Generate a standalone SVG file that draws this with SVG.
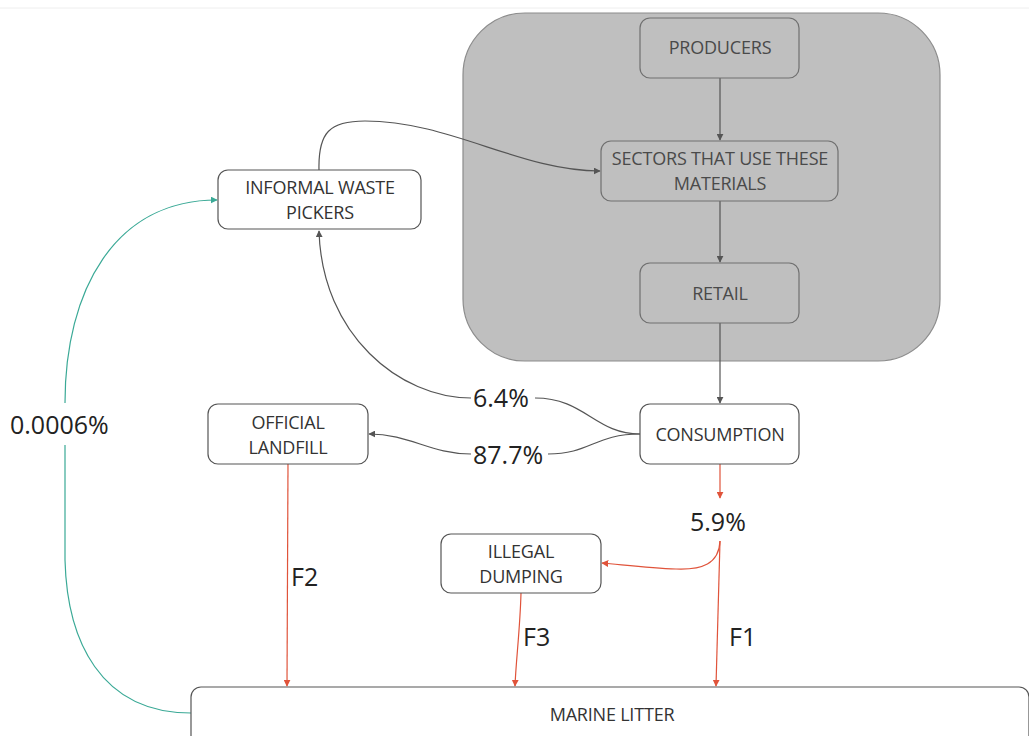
<svg xmlns="http://www.w3.org/2000/svg" width="1029" height="736" viewBox="0 0 1029 736">
<defs>
<style>
.node{fill:#ffffff;stroke:#555;stroke-width:1.2}
.inner{fill:#bfbfbf;stroke:#707070;stroke-width:1.2}
.t{font-family:"Open Sans","Liberation Sans",sans-serif;font-size:18px;fill:#333;text-anchor:middle;letter-spacing:-0.2px}
.ti{fill:#4a4a4a}
.lbl{font-family:"Open Sans","Liberation Sans",sans-serif;font-size:25px;fill:#222}
.g{fill:none;stroke:#555;stroke-width:1.2}
.r{fill:none;stroke:#e0533a;stroke-width:1.2}
.c{fill:none;stroke:#3aa996;stroke-width:1.2}
</style>
<marker id="ag" viewBox="0 0 10 10" refX="9" refY="5" markerWidth="7" markerHeight="7" markerUnits="userSpaceOnUse" orient="auto"><path d="M0,0 L10,5 L0,10 z" fill="#555"/></marker>
<marker id="ar" viewBox="0 0 10 10" refX="9" refY="5" markerWidth="7" markerHeight="7" markerUnits="userSpaceOnUse" orient="auto"><path d="M0,0 L10,5 L0,10 z" fill="#e0533a"/></marker>
<marker id="ac" viewBox="0 0 10 10" refX="9" refY="5" markerWidth="7" markerHeight="7" markerUnits="userSpaceOnUse" orient="auto"><path d="M0,0 L10,5 L0,10 z" fill="#3aa996"/></marker>
</defs>
<rect width="1029" height="736" fill="#ffffff"/>
<line x1="0" y1="8" x2="1029" y2="8" stroke="#eeeeee" stroke-width="1"/>

<g id="container">
<rect x="463" y="13" width="477" height="348" rx="62" fill="#bfbfbf" stroke="#8c8c8c" stroke-width="1.2"/>
</g>

<g id="connectors">
<line class="g" x1="720" y1="78" x2="720" y2="140" marker-end="url(#ag)"/>
<line class="g" x1="720" y1="201" x2="720" y2="262" marker-end="url(#ag)"/>
<line class="g" x1="720" y1="323" x2="720" y2="403" marker-end="url(#ag)"/>
<path class="g" d="M319,170 C318,132 330,121 365,121 C450,121 520,171 600,171" marker-end="url(#ag)"/>
<path class="g" d="M640,434 C595,434 585,398 535,398"/>
<path class="g" d="M471,398 C400,398 322,335 319,231" marker-end="url(#ag)"/>
<path class="g" d="M640,434 C595,434 590,454 548,454"/>
<path class="g" d="M471,454 C430,454 410,434 369,434" marker-end="url(#ag)"/>
<line class="r" x1="720" y1="464" x2="720" y2="498" marker-end="url(#ar)"/>
<path class="r" d="M720,541 C719,564 702,570 676,569 C650,568 625,565 602,563" marker-end="url(#ar)"/>
<path class="r" d="M720,541 L716,686" marker-end="url(#ar)"/>
<path class="r" d="M521,593 C520,630 516,660 515,686" marker-end="url(#ar)"/>
<line class="r" x1="288" y1="464" x2="287" y2="686" marker-end="url(#ar)"/>
<path class="c" d="M191,713 C100,713 67,640 65,560 L65,445"/>
<path class="c" d="M65,403 C65,290 115,200 217,200" marker-end="url(#ac)"/>
<text class="lbl" x="473" y="407">6.4%</text>
<text class="lbl" x="473" y="464">87.7%</text>
<text class="lbl" x="690" y="531">5.9%</text>
<text class="lbl" x="291" y="586">F2</text>
<text class="lbl" x="523" y="646">F3</text>
<text class="lbl" x="729" y="646">F1</text>
<text class="lbl" x="10" y="434">0.0006%</text>
</g>

<g id="producers">
<rect class="inner" x="640" y="18" width="159" height="60" rx="10"/>
<text class="t ti" x="720" y="54">PRODUCERS</text>
</g>
<g id="sectors">
<rect class="inner" x="601" y="141" width="237" height="60" rx="10"/>
<text class="t ti" x="720" y="165">SECTORS THAT USE THESE</text>
<text class="t ti" x="720" y="190">MATERIALS</text>
</g>
<g id="retail">
<rect class="inner" x="640" y="263" width="159" height="60" rx="10"/>
<text class="t ti" x="720" y="300">RETAIL</text>
</g>
<g id="informal">
<rect class="node" x="218" y="170" width="203" height="59" rx="10"/>
<text class="t" x="320" y="194">INFORMAL WASTE</text>
<text class="t" x="320" y="219">PICKERS</text>
</g>
<g id="consumption">
<rect class="node" x="640" y="404" width="159" height="60" rx="10"/>
<text class="t" x="720" y="441">CONSUMPTION</text>
</g>
<g id="landfill">
<rect class="node" x="208" y="404" width="160" height="60" rx="10"/>
<text class="t" x="288" y="429">OFFICIAL</text>
<text class="t" x="288" y="454">LANDFILL</text>
</g>
<g id="dumping">
<rect class="node" x="441" y="534" width="160" height="59" rx="10"/>
<text class="t" x="521" y="558">ILLEGAL</text>
<text class="t" x="521" y="583">DUMPING</text>
</g>
<g id="marine">
<rect class="node" x="191" y="687" width="838" height="70" rx="10"/>
<text class="t" x="612" y="721">MARINE LITTER</text>
</g>
</svg>
